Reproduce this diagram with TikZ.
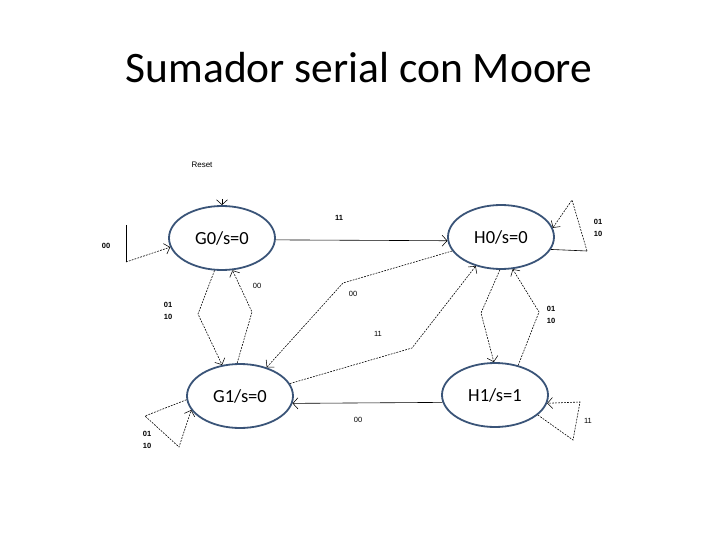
\documentclass[tikz,border=0pt]{standalone}
\usepackage{fontspec}
\setmainfont{Carlito}
\newfontfamily\arialf{Liberation Sans}
\usetikzlibrary{shapes.geometric,arrows.meta}
\definecolor{ellc}{RGB}{58,84,120}
\begin{document}
\begin{tikzpicture}[x=1pt,y=-1pt,
  state/.style={ellipse, draw=ellc, line width=1.8pt, fill=white, minimum width=106pt, minimum height=64pt, inner sep=0pt, font=\fontsize{18.5}{20}\selectfont},
  lblb/.style={font=\arialf\fontsize{7.5}{12}\selectfont\bfseries, align=center, inner sep=0pt},
  lbln/.style={font=\arialf\fontsize{7.5}{12}\selectfont, inner sep=0pt},
  arr/.style={-{Straight Barb[length=5pt,width=11pt,line width=0.55pt]}, line width=0.6pt},
  dsh/.style={dash pattern=on 1.8pt off 1.2pt},
  plain/.style={line width=0.6pt},
]
\useasboundingbox (0,0) rectangle (720,540);

% title
\node[anchor=base, font=\fontsize{43.5}{50}\selectfont, inner sep=0pt] (title) at (359,83) {Sumador serial con Moore};

% states
\node[state] (G0) at (222,238) {G0/s=0};
\node[state] (H0) at (501,237) {H0/s=0};
\node[state] (G1) at (240,396) {G1/s=0};
\node[state] (H1) at (495,395) {H1/s=1};

% reset
\node[font=\arialf\fontsize{8}{9}\selectfont, inner sep=0pt] (reset) at (202,165) {Reset};
\coordinate (rs) at (222,199);
\draw[arr] (rs) -- (G0.north);

% G0 self loop
\coordinate (g0a) at (126,225);
\coordinate (g0b) at (126,262);
\draw[plain] (g0a) -- (g0b);
\draw[arr,dsh] (g0b) -- (G0.190);
\node[lblb] (l1) at (106,246) {00};

% G0 -> H0
\draw[arr] (G0.-2) -- (H0.184);
\node[lblb] (l2) at (339,218) {11};

% G0 -> G1
\draw[arr,dsh] (G0.257) -- (198,314) -- (G1.120);
\node[lblb] (l3) at (168,311) {01\\10};

% G1 -> G0
\draw[arr,dsh] (G1.95) -- (252,312) -- (G0.288);
\node[lbln] (l4) at (257,286) {00};

% H0 -> G1
\draw[arr,dsh] (H0.196) -- (343,283) -- (G1.47);
\node[lbln] (l5) at (353,294) {00};

% G1 -> H0
\draw[arr,dsh] (G1.14) -- (412,348) -- (H0.229);
\node[lbln] (l6) at (378,334) {11};

% H1 -> G1
\draw[arr] (H1.188) -- (G1.352);
\node[lbln] (l7) at (358,420) {00};

% H0 -> H1
\draw[arr,dsh] (H0.268) -- (481,313) -- (H1.92);

% H1 -> H0
\draw[arr,dsh] (H1.52) -- (539,312) -- (H0.290);
\node[lblb] (l8) at (551,315) {01\\10};

% H0 self loop
\coordinate (h0a) at (587,251);
\coordinate (h0b) at (572,200);
\draw[plain] (H0.346) -- (h0a);
\draw[arr,dsh] (h0a) -- (h0b) -- (H0.10);
\node[lblb] (l9) at (598,228) {01\\10};

% G1 self loop
\draw[arr,dsh] (G1.184) -- (145,416) -- (179,447) -- (G1.196);
\node[lblb] (l10) at (147,440) {01\\10};

% H1 self loop
\draw[arr,dsh] (H1.335) -- (573,440) -- (580,402) -- (H1.351);
\node[lbln] (l11) at (588,421) {11};
\end{tikzpicture}
\end{document}
